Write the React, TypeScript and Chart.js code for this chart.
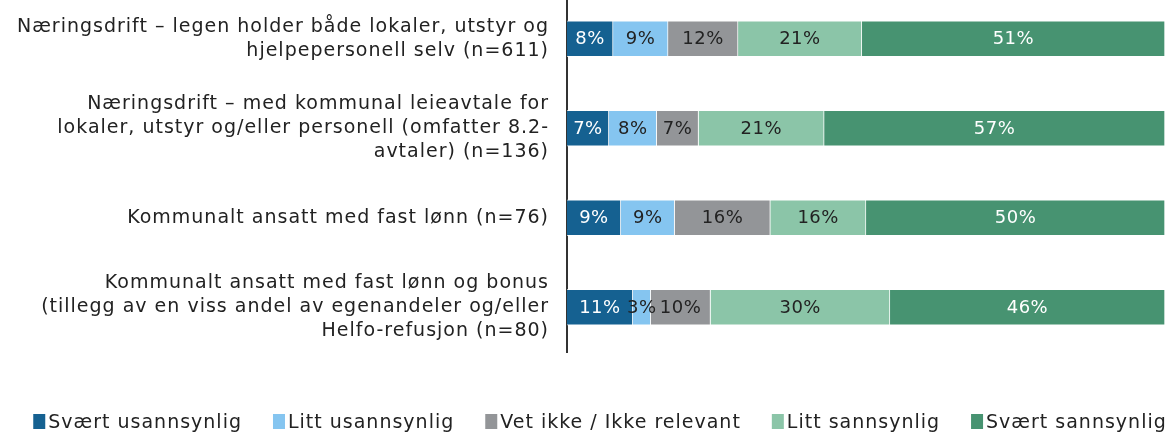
import React, { useEffect, useRef } from "react";
import { Chart, registerables } from "chart.js";

Chart.register(...registerables);

const categories: string[][] = [
  ["Næringsdrift – legen holder både lokaler, utstyr og", "hjelpepersonell selv (n=611)"],
  ["Næringsdrift – med kommunal leieavtale for", "lokaler, utstyr og/eller personell (omfatter 8.2-", "avtaler) (n=136)"],
  ["Kommunalt ansatt med fast lønn (n=76)"],
  ["Kommunalt ansatt med fast lønn og bonus", "(tillegg av en viss andel av egenandeler og/eller", "Helfo-refusjon (n=80)"],
];

const seriesNames = ["Svært usannsynlig", "Litt usannsynlig", "Vet ikke / Ikke relevant", "Litt sannsynlig", "Svært sannsynlig"];
const seriesColors = ["#156191", "#85c5f0", "#939598", "#8bc5a8", "#479371"];
const labelColors = ["#ffffff", "#222222", "#222222", "#222222", "#ffffff"];

const sVeryUnlikely = [7.7, 7, 9, 11];
const sSomewhatUnlikely = [9.2, 8, 9, 3];
const sDontKnow = [11.7, 7, 16, 10];
const sSomewhatLikely = [20.7, 21, 16, 30];
const sVeryLikely = [50.7, 57, 50, 46];

const seriesValues = [sVeryUnlikely, sSomewhatUnlikely, sDontKnow, sSomewhatLikely, sVeryLikely];

const FONT = "'DejaVu Sans', sans-serif";

const spacing = {
  id: "spacing",
  beforeDraw(chart: any) {
    chart.ctx.letterSpacing = "1px";
  },
};

const valueLabels = {
  id: "valueLabels",
  afterDatasetsDraw(chart: any) {
    const ctx = chart.ctx;
    ctx.save();
    ctx.letterSpacing = "0.5px";
    ctx.font = `18px ${FONT}`;
    ctx.textAlign = "center";
    ctx.textBaseline = "middle";
    chart.data.datasets.forEach((ds: any, di: number) => {
      const meta = chart.getDatasetMeta(di);
      meta.data.forEach((el: any, i: number) => {
        const v = ds.data[i];
        const cx = (el.x + el.base) / 2;
        ctx.fillStyle = labelColors[di];
        ctx.fillText(`${Math.round(v)}%`, cx, el.y + 1);
      });
    });
    ctx.restore();
  },
};

const customLegend = {
  id: "customLegend",
  afterDraw(chart: any) {
    const ctx = chart.ctx;
    ctx.save();
    ctx.letterSpacing = "1px";
    ctx.font = `19px ${FONT}`;
    ctx.textBaseline = "alphabetic";
    ctx.textAlign = "left";
    const box = 12;
    const gapBoxText = 3;
    const gapItems = 31;
    const items = chart.data.datasets.map((ds: any) => ({
      text: ds.label,
      color: ds.backgroundColor,
      w: ctx.measureText(ds.label).width,
    }));
    const total = items.reduce((s: number, it: any) => s + box + gapBoxText + it.w, 0) + gapItems * (items.length - 1);
    let x = (chart.width - total) / 2 + 12;
    const baseline = 434;
    items.forEach((it: any) => {
      ctx.fillStyle = it.color;
      ctx.fillRect(x, baseline - 14, box, 15);
      ctx.fillStyle = "#222222";
      ctx.fillText(it.text, x + box + gapBoxText, baseline);
      x += box + gapBoxText + it.w + gapItems;
    });
    ctx.restore();
  },
};

export default function App() {
  const ref = useRef<HTMLCanvasElement>(null);
  useEffect(() => {
    if (!ref.current) return;
    const chart = new Chart(ref.current, {
      type: "bar",
      data: {
        labels: categories,
        datasets: seriesNames.map((name, i) => ({
          label: name,
          data: seriesValues[i],
          backgroundColor: seriesColors[i],
          borderColor: "rgba(255,255,255,0.7)",
          borderWidth: 1,
          barThickness: 36,
        })),
      },
      options: {
        indexAxis: "y",
        responsive: false,
        animation: false,
        layout: { padding: { left: 0, right: 11, top: 0, bottom: 80 } },
        scales: {
          x: {
            stacked: true,
            min: 0,
            max: 100,
            display: false,
          },
          y: {
            stacked: true,
            grid: { display: false, drawTicks: false },
            border: { display: true, color: "#333333", width: 2 },
            ticks: {
              color: "#222222",
              padding: 18,
              font: { family: FONT, size: 19, lineHeight: 1.27 },
            },
            afterFit(scale: any) {
              scale.width = 567;
              scale.paddingTop = 0;
              scale.paddingBottom = 0;
            },
          },
        },
        plugins: {
          legend: { display: false },
          tooltip: { enabled: false },
        },
      },
      plugins: [spacing, valueLabels, customLegend],
    });
    return () => chart.destroy();
  }, []);
  return (
    <div style={{ position: "fixed", left: 0, top: -6, width: 1176, height: 438, background: "#fff" }}>
      <canvas ref={ref} width={1176} height={438} style={{ display: "block" }} />
    </div>
  );
}
